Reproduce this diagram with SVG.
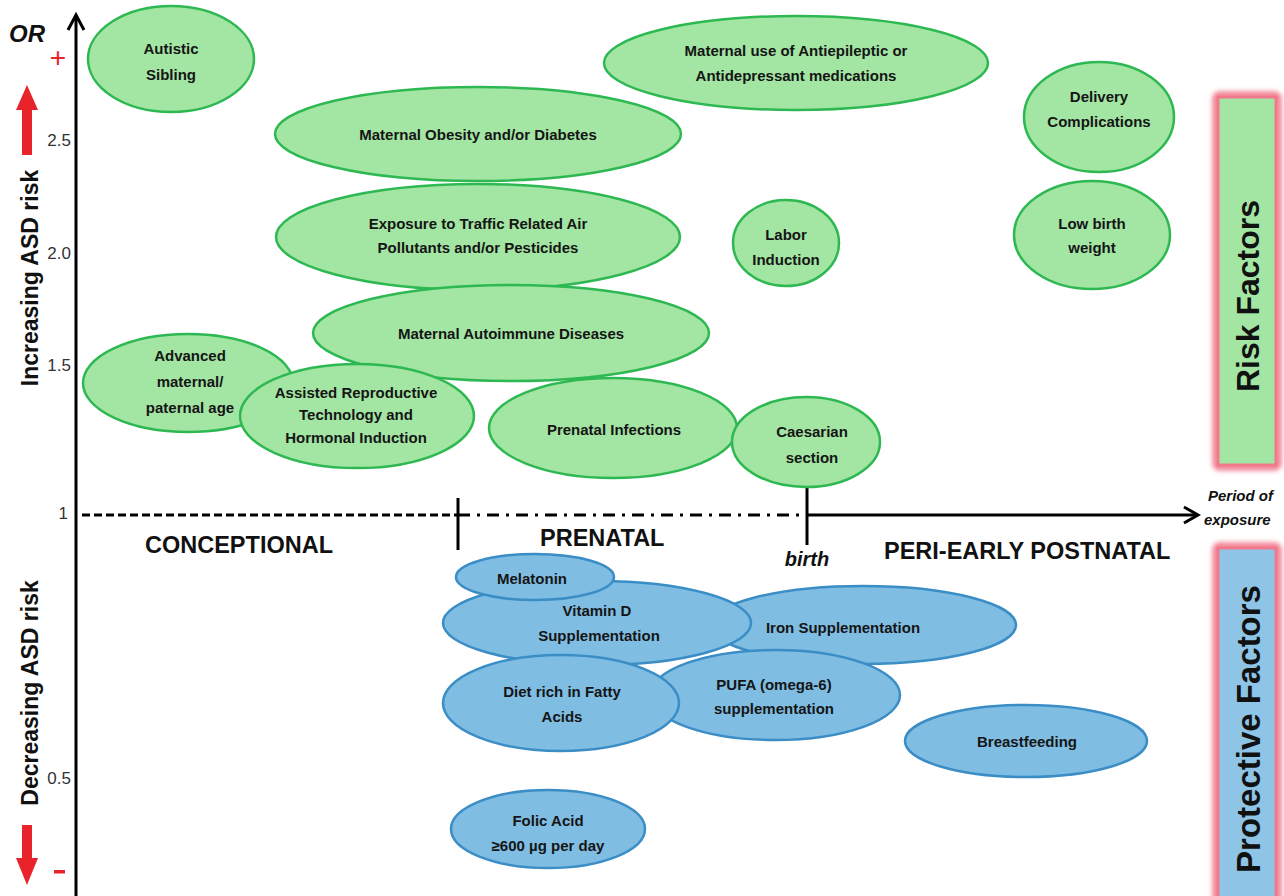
<svg xmlns="http://www.w3.org/2000/svg" width="1284" height="896" viewBox="0 0 1284 896">
<defs>
<style>
.g{fill:#a3e5a3;stroke:#2eb852;stroke-width:2.5}
.b{fill:#7fbde3;stroke:#3b8dc6;stroke-width:2.5}
.t{font-family:"Liberation Sans",Arial,sans-serif;font-weight:bold;font-size:15px;fill:#151515;text-anchor:middle}
.ax{stroke:#000;stroke-width:3;fill:none}
.lab{font-family:"Liberation Sans",Arial,sans-serif;font-weight:bold;font-size:23.5px;fill:#111}
.num{font-family:"Liberation Sans",Arial,sans-serif;font-size:17px;fill:#333;text-anchor:end}
.it{font-family:"Liberation Sans",Arial,sans-serif;font-weight:bold;font-style:italic;fill:#111}
.side{font-family:"Liberation Sans",Arial,sans-serif;font-weight:bold;fill:#111;text-anchor:middle}
</style>
<filter id="glow" x="-30%" y="-10%" width="160%" height="120%"><feGaussianBlur stdDeviation="2.5"/></filter>
</defs>

<g id="axes">
<line class="ax" x1="76" y1="16" x2="76" y2="896"/>
<polyline class="ax" points="68,30 76,15 84,30"/>
<line class="ax" x1="82" y1="515" x2="458" y2="515" stroke-dasharray="8,4"/>
<line class="ax" x1="458" y1="515" x2="806" y2="515" stroke-dasharray="12,7,3,7"/>
<line class="ax" x1="806" y1="515" x2="1196" y2="515"/>
<polyline class="ax" points="1184,507 1198,515 1184,523"/>
<line class="ax" x1="458" y1="498" x2="458" y2="550"/>
<line class="ax" x1="807" y1="487" x2="807" y2="545"/>
</g>

<g id="axis-labels">
<text class="it" x="9" y="42" font-size="24">OR</text>
<text x="58" y="67" font-family="Liberation Sans,Arial,sans-serif" font-size="28" fill="#e8232a" text-anchor="middle">+</text>
<rect x="54" y="870" width="11" height="3.5" fill="#e8232a"/>
<polygon points="22,155 22,110 16,110 27,85 38,110 32,110 32,155" fill="#e8232a"/>
<polygon points="22,825 22,858 16,858 27,885 38,858 32,858 32,825" fill="#e8232a"/>
<text class="num" x="71" y="146">2.5</text>
<text class="num" x="71" y="259">2.0</text>
<text class="num" x="71" y="371">1.5</text>
<text class="num" x="68" y="519">1</text>
<text class="num" x="71" y="784">0.5</text>
<text class="side" font-size="23" transform="translate(38,278) rotate(-90)">Increasing ASD risk</text>
<text class="side" font-size="23" transform="translate(38,693) rotate(-90)">Decreasing ASD risk</text>
<text class="lab" x="145" y="553">CONCEPTIONAL</text>
<text class="lab" x="540" y="546">PRENATAL</text>
<text class="it" x="807" y="566" font-size="20" text-anchor="middle">birth</text>
<text class="lab" x="884" y="559">PERI-EARLY POSTNATAL</text>
<text class="it" x="1208" y="501" font-size="15">Period of</text>
<text class="it" x="1204" y="525" font-size="15">exposure</text>
</g>

<g id="risk-factors">
<rect x="1216" y="95" width="62" height="372" rx="3" fill="none" stroke="#f27a8e" stroke-width="7" filter="url(#glow)"/>
<rect x="1218" y="97" width="58" height="368" fill="#a3e5a3" stroke="#f07a8c" stroke-width="3"/>
<text class="side" font-size="32" transform="translate(1259,296) rotate(-90)">Risk Factors</text>
</g>
<g id="protective-factors">
<rect x="1216" y="546" width="62" height="360" rx="3" fill="none" stroke="#f27a8e" stroke-width="7" filter="url(#glow)"/>
<rect x="1218" y="548" width="58" height="360" fill="#8ec5e7" stroke="#f07a8c" stroke-width="3"/>
<text class="side" font-size="33" transform="translate(1260,729) rotate(-90)">Protective Factors</text>
</g>

<g id="autistic-sibling"><ellipse class="g" cx="171" cy="59" rx="83" ry="53"/><text class="t" x="171" y="54">Autistic</text><text class="t" x="171" y="80">Sibling</text></g>
<g id="maternal-medications"><ellipse class="g" cx="796" cy="63" rx="192" ry="47"/><text class="t" x="796" y="56">Maternal use of Antiepileptic or</text><text class="t" x="796" y="81">Antidepressant medications</text></g>
<g id="delivery-complications"><ellipse class="g" cx="1099" cy="117" rx="75" ry="55"/><text class="t" x="1099" y="102">Delivery</text><text class="t" x="1099" y="127">Complications</text></g>
<g id="maternal-obesity"><ellipse class="g" cx="478" cy="134" rx="203" ry="47"/><text class="t" x="478" y="140">Maternal Obesity and/or Diabetes</text></g>
<g id="traffic-pollutants"><ellipse class="g" cx="478" cy="237" rx="202" ry="53"/><text class="t" x="478" y="229">Exposure to Traffic Related Air</text><text class="t" x="478" y="253">Pollutants and/or Pesticides</text></g>
<g id="labor-induction"><ellipse class="g" cx="786" cy="243" rx="53" ry="43"/><text class="t" x="786" y="240">Labor</text><text class="t" x="786" y="265">Induction</text></g>
<g id="low-birth-weight"><ellipse class="g" cx="1092" cy="235" rx="78" ry="54"/><text class="t" x="1092" y="229">Low birth</text><text class="t" x="1092" y="253">weight</text></g>
<g id="maternal-autoimmune"><ellipse class="g" cx="511" cy="333" rx="198" ry="48"/><text class="t" x="511" y="339">Maternal Autoimmune Diseases</text></g>
<g id="advanced-age"><ellipse class="g" cx="188" cy="383" rx="105" ry="49"/><text class="t" x="190" y="361">Advanced</text><text class="t" x="190" y="387">maternal/</text><text class="t" x="190" y="413">paternal age</text></g>
<g id="assisted-reproductive"><ellipse class="g" cx="357" cy="416" rx="117" ry="52"/><text class="t" x="356" y="398" font-size="13">Assisted Reproductive</text><text class="t" x="356" y="420" font-size="13">Technology and</text><text class="t" x="356" y="443" font-size="13">Hormonal Induction</text></g>
<g id="prenatal-infections"><ellipse class="g" cx="613" cy="428" rx="124" ry="50"/><text class="t" x="614" y="435">Prenatal Infections</text></g>
<g id="caesarian-section"><ellipse class="g" cx="806" cy="442" rx="74" ry="45"/><text class="t" x="812" y="437">Caesarian</text><text class="t" x="812" y="463">section</text></g>

<g id="iron-supplementation"><ellipse class="b" cx="863" cy="625" rx="153" ry="39"/><text class="t" x="843" y="633">Iron Supplementation</text></g>
<g id="vitamin-d"><ellipse class="b" cx="597" cy="623" rx="154" ry="42"/><text class="t" x="597" y="616">Vitamin D</text><text class="t" x="599" y="641">Supplementation</text></g>
<g id="melatonin"><ellipse class="b" cx="535" cy="577" rx="79" ry="23"/><text class="t" x="532" y="584">Melatonin</text></g>
<g id="pufa"><ellipse class="b" cx="775" cy="695" rx="125" ry="45"/><text class="t" x="774" y="690">PUFA (omega-6)</text><text class="t" x="774" y="714">supplementation</text></g>
<g id="diet-fatty-acids"><ellipse class="b" cx="561" cy="703" rx="118" ry="48"/><text class="t" x="562" y="697">Diet rich in Fatty</text><text class="t" x="562" y="722">Acids</text></g>
<g id="breastfeeding"><ellipse class="b" cx="1026" cy="741" rx="121" ry="36"/><text class="t" x="1027" y="747">Breastfeeding</text></g>
<g id="folic-acid"><ellipse class="b" cx="548" cy="829" rx="97" ry="39"/><text class="t" x="548" y="826">Folic Acid</text><text class="t" x="548" y="851">≥600 µg per day</text></g>
</svg>
